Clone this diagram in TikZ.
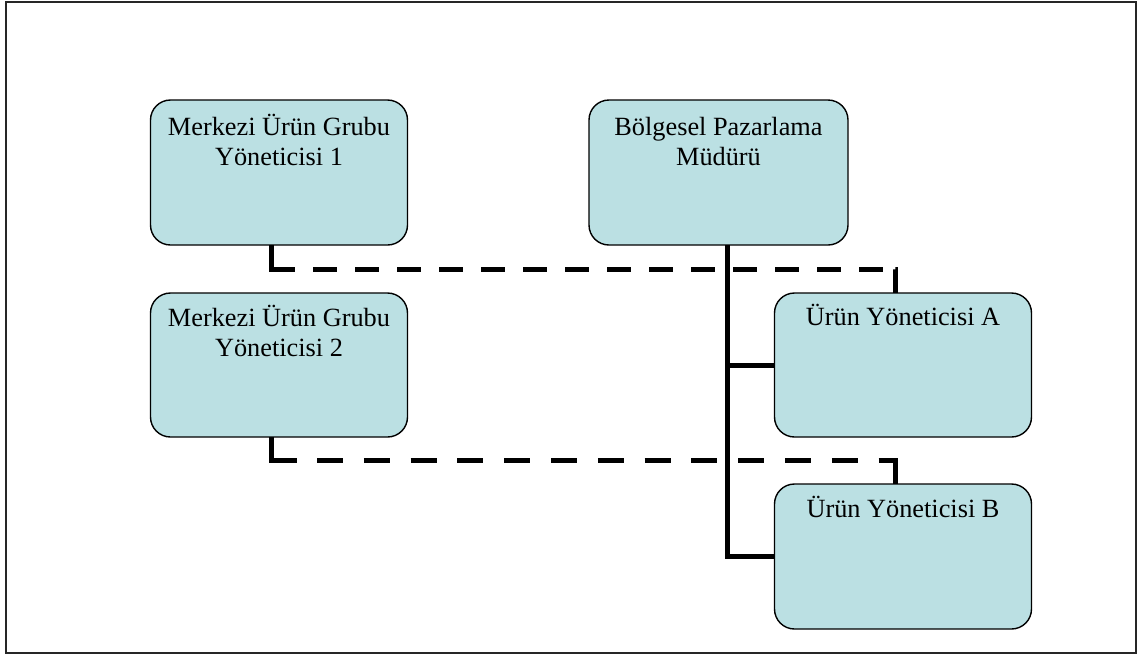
\documentclass[tikz,border=0pt]{standalone}
\usepackage{fontspec}
\setmainfont{Liberation Serif}
\begin{document}
\begin{tikzpicture}[
  x=1pt, y=-1pt,
  box/.style={draw=black, line width=1.4pt, fill=boxfill, rounded corners=20pt,
    minimum width=257pt, minimum height=145pt, inner sep=0pt, outer sep=0pt},
  % anchor=base sits on the last line of a multi-line label
  lbl/.style={anchor=base, align=center, inner sep=0pt,
    font=\fontsize{26.3pt}{29.5pt}\selectfont},
  trunk/.style={draw=black, line width=5pt},
  dashlink/.style={draw=black, line width=5pt},
  dashesA/.style={dash pattern=on 48pt off 18pt
    on 24pt off 18pt on 24pt off 18pt on 24pt off 18pt on 24pt off 18pt
    on 24pt off 18pt on 24pt off 18pt on 24pt off 18pt on 24pt off 18pt
    on 24pt off 18pt on 24pt off 18pt on 24pt off 18pt on 24pt off 18pt
    on 24pt off 18pt on 24pt off 12pt on 26pt off 60pt},
  dashesB/.style={dash pattern=on 49pt off 20pt
    on 26pt off 20.8pt on 26pt off 20.8pt on 26pt off 20.8pt on 26pt off 20.8pt
    on 26pt off 20.8pt on 26pt off 20.8pt on 26pt off 20.8pt on 26pt off 20.8pt
    on 26pt off 20.8pt on 26pt off 20.8pt on 26pt off 20.8pt on 26pt off 20.8pt
    on 42pt off 60pt},
]
\definecolor{boxfill}{HTML}{BBE0E3}
\useasboundingbox (0,0) rectangle (1144,657);
% outer frame
\draw[line width=2pt, black!85] (5.5,1.5) rectangle (1136,652.5);

% boxes
\node[box] (m1)  at (279,172.5) {};
\node[box, minimum width=259pt] (bpm) at (718.5,172.5) {};
\node[box, minimum height=144pt] (m2)  at (279,365) {};
\node[box, minimum height=144pt] (ua)  at (903,365) {};
\node[box] (ub)  at (903,556.5) {};

% box texts
\node[lbl] (m1t)  at (279,165) {Merkezi Ürün Grubu\\Yöneticisi 1};
\node[lbl] (bpmt) at (718.5,165) {Bölgesel Pazarlama\\Müdürü};
\node[lbl] (m2t)  at (279,356) {Merkezi Ürün Grubu\\Yöneticisi 2};
\node[lbl] (uat)  at (903,325) {Ürün Yöneticisi A};
\node[lbl] (ubt)  at (903,517) {Ürün Yöneticisi B};

% solid reporting lines
\coordinate (bus) at (727,0);
\draw[trunk] (bpm.south -| bus) |- (ub.west);
\draw[trunk] (bus |- ua.west) -- (ua.west);

% dashed reporting lines
\draw[dashlink, dashesA] ([xshift=-8pt]m1.south) -- ++(0,24) -| ([xshift=-8pt]ua.north);
\draw[dashlink, dashesB] ([xshift=-8pt]m2.south) -- ++(0,23) -| ([xshift=-8pt]ub.north);
\end{tikzpicture}
\end{document}
